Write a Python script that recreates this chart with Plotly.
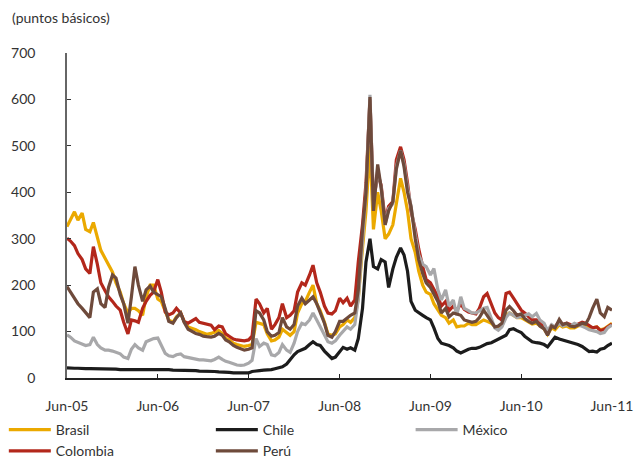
import plotly.graph_objects as go
import pandas as pd

# semi-monthly observation dates (1st and 15th), Jun-2005 .. Jun-2011
dates = pd.date_range("2005-06-01", "2011-06-01", freq="SMS")

tick_dates = ["2005-06-01", "2006-06-01", "2007-06-01", "2008-06-01",
              "2009-06-01", "2010-06-01", "2011-06-01"]
tick_labels = ["Jun-05", "Jun-06", "Jun-07", "Jun-08", "Jun-09", "Jun-10", "Jun-11"]

brasil = [326, 340, 358, 340, 355, 320, 315, 335, 300, 275, 258, 245, 228, 205, 185, 160, 140, 150, 150, 145, 135, 175, 200, 200, 170,
          165, 145, 125, 120, 132, 140, 122, 110, 108, 104, 100, 96, 94, 96, 98, 102, 96, 86, 82, 75, 72, 70, 68, 70,
          72, 120, 118, 115, 95, 80, 82, 88, 105, 98, 92, 100, 140, 160, 165, 185, 200, 160, 145, 120, 95, 92, 95, 110,
          115, 125, 120, 130, 170, 280, 360, 500, 320, 400, 360, 300, 310, 330, 380, 430, 400, 360, 300, 270, 230, 200, 185, 180,
          160, 146, 135, 130, 118, 125, 110, 112, 112, 118, 115, 115, 120, 125, 122, 118, 110, 108, 112, 135, 140, 135, 130, 130,
          125, 120, 116, 118, 112, 106, 94, 108, 104, 115, 110, 112, 108, 108, 112, 114, 112, 110, 108, 110, 104, 106, 112, 118]

colombia = [301, 295, 285, 268, 255, 235, 225, 283, 245, 205, 188, 175, 165, 155, 146, 120, 95, 125, 123, 120, 150, 165, 178, 185, 212,
            185, 142, 136, 140, 150, 140, 122, 118, 122, 128, 120, 118, 116, 114, 104, 112, 110, 95, 90, 84, 82, 80, 80, 82,
            90, 170, 160, 140, 150, 105, 115, 130, 160, 130, 135, 145, 185, 205, 200, 222, 243, 205, 185, 155, 140, 138, 145, 172,
            162, 172, 155, 168, 250, 330, 420, 600, 380, 440, 415, 340, 370, 380, 470, 498, 470, 420, 360, 320, 278, 240, 212, 205,
            190, 175, 155, 165, 145, 155, 145, 160, 148, 142, 140, 138, 150, 175, 182, 160, 140, 130, 125, 182, 185, 172, 161, 146,
            140, 132, 125, 125, 118, 112, 100, 112, 110, 122, 115, 118, 115, 112, 116, 120, 118, 112, 108, 110, 102, 105, 110, 116]

peru = [197, 185, 170, 160, 150, 140, 130, 185, 192, 160, 152, 195, 222, 215, 180, 160, 118, 175, 240, 200, 165, 190, 198, 185, 180,
        175, 150, 122, 118, 130, 140, 120, 105, 100, 96, 94, 90, 89, 88, 90, 96, 92, 82, 78, 70, 66, 62, 60, 62,
        65, 145, 140, 125, 100, 90, 92, 98, 130, 110, 105, 115, 155, 172, 160, 168, 175, 160, 140, 118, 92, 88, 100, 122,
        122, 130, 135, 140, 190, 320, 400, 605, 360, 460, 410, 330, 360, 380, 450, 490, 455, 400, 370, 300, 255, 225, 205, 195,
        180, 165, 140, 150, 132, 140, 138, 135, 125, 122, 120, 122, 130, 146, 135, 122, 110, 112, 118, 146, 154, 145, 135, 138,
        128, 122, 118, 122, 112, 106, 92, 112, 108, 126, 115, 118, 112, 110, 114, 118, 116, 130, 150, 170, 140, 132, 152, 146]

mexico = [93, 88, 80, 77, 72, 70, 72, 88, 72, 65, 60, 60, 58, 55, 52, 45, 42, 62, 72, 65, 60, 78, 82, 85, 86,
          70, 53, 48, 46, 50, 52, 46, 44, 42, 40, 39, 39, 38, 37, 40, 45, 40, 36, 34, 30, 28, 27, 28, 32,
          38, 85, 68, 75, 72, 50, 48, 55, 72, 60, 55, 75, 100, 118, 115, 125, 140, 125, 110, 92, 78, 75, 80, 92,
          100, 110, 105, 115, 170, 300, 400, 610, 370, 450, 410, 330, 365, 375, 455, 490, 460, 410, 370, 310, 265, 245, 240, 222,
          236, 190, 168, 190, 155, 168, 135, 175, 150, 145, 140, 140, 145, 150, 152, 125, 108, 103, 110, 130, 140, 135, 130, 132,
          135, 138, 132, 139, 125, 118, 102, 115, 110, 118, 112, 115, 112, 118, 115, 112, 108, 104, 102, 100, 96, 98, 108, 114]

chile = [22, 21, 21, 21, 20, 20, 20, 20, 20, 19, 19, 19, 19, 19, 18, 18, 18, 19, 19, 18, 18, 18, 18, 18, 18,
         18, 18, 18, 17, 17, 17, 17, 16, 16, 16, 15, 15, 15, 14, 14, 13, 13, 12, 12, 11, 11, 10, 10, 11,
         14, 16, 16, 17, 17, 18, 20, 22, 24, 30, 40, 50, 57, 60, 64, 72, 78, 72, 70, 58, 50, 42, 45, 58,
         66, 62, 65, 60, 85, 150, 250, 300, 240, 235, 255, 250, 195, 235, 260, 280, 265, 230, 165, 146, 140, 135, 130, 125,
         108, 85, 75, 72, 70, 65, 58, 54, 58, 62, 64, 64, 66, 70, 74, 76, 80, 84, 88, 92, 104, 106, 102, 98,
         90, 84, 78, 76, 75, 72, 67, 78, 88, 84, 82, 80, 78, 75, 72, 68, 62, 57, 58, 56, 62, 64, 70, 75]

FONT = "Lato"
TXT = "#333333"

# name, values, colour, legend column
series = [
    ("Brasil", brasil, "#EBA900", "legend"),
    ("Colombia", colombia, "#B3271B", "legend"),
    ("México", mexico, "#A8A8AA", "legend3"),
    ("Chile", chile, "#1C1C1C", "legend2"),
    ("Perú", peru, "#6E4A3B", "legend2"),
]

fig = go.Figure()
for name, vals, col, leg in series:
    fig.add_trace(go.Scatter(
        x=dates, y=vals, name=name, mode="lines",
        line=dict(color=col, width=3.2), legend=leg,
    ))

leg_common = dict(
    orientation="v", xref="container", yref="container",
    y=0.096, xanchor="left", yanchor="top",
    itemwidth=42, tracegroupgap=0,
    font=dict(family=FONT, size=14, color=TXT),
    bgcolor="rgba(0,0,0,0)",
)

fig.update_layout(
    width=637, height=458,
    paper_bgcolor="white", plot_bgcolor="white",
    margin=dict(l=67, r=25, t=53, b=80, autoexpand=False),
    font=dict(family=FONT, size=14, color=TXT),
    showlegend=True,
    legend=dict(x=0.006, **leg_common),
    legend2=dict(x=0.331, **leg_common),
    legend3=dict(x=0.6446, **leg_common),
    xaxis=dict(
        type="date", range=["2005-06-01", "2011-06-01"],
        tickvals=tick_dates, ticktext=tick_labels,
        ticks="inside", ticklen=4, tickwidth=1, tickcolor="#222",
        showline=True, linecolor="#222", linewidth=1.5,
        showgrid=False, zeroline=False, ticklabelstandoff=14,
        tickfont=dict(family=FONT, size=14, color=TXT),
    ),
    yaxis=dict(
        range=[0, 700], dtick=100, tick0=0,
        ticks="inside", ticklen=4, tickwidth=1, tickcolor="#333",
        showline=True, linecolor="#666", linewidth=1.5,
        showgrid=False, zeroline=False, ticklabelstandoff=27,
        tickfont=dict(family=FONT, size=14, color=TXT),
    ),
    annotations=[dict(
        text="(puntos básicos)", xref="paper", yref="paper",
        x=-0.105, y=1.108, xanchor="left", yanchor="middle",
        showarrow=False, font=dict(family=FONT, size=14, color=TXT),
    )],
)

# remove the default 8px page margin so the figure fills the window exactly
fig.write_html(
    "out.html",
    config={"displayModeBar": False},
    post_script="document.body.style.margin='0';document.body.style.overflow='hidden';",
)
